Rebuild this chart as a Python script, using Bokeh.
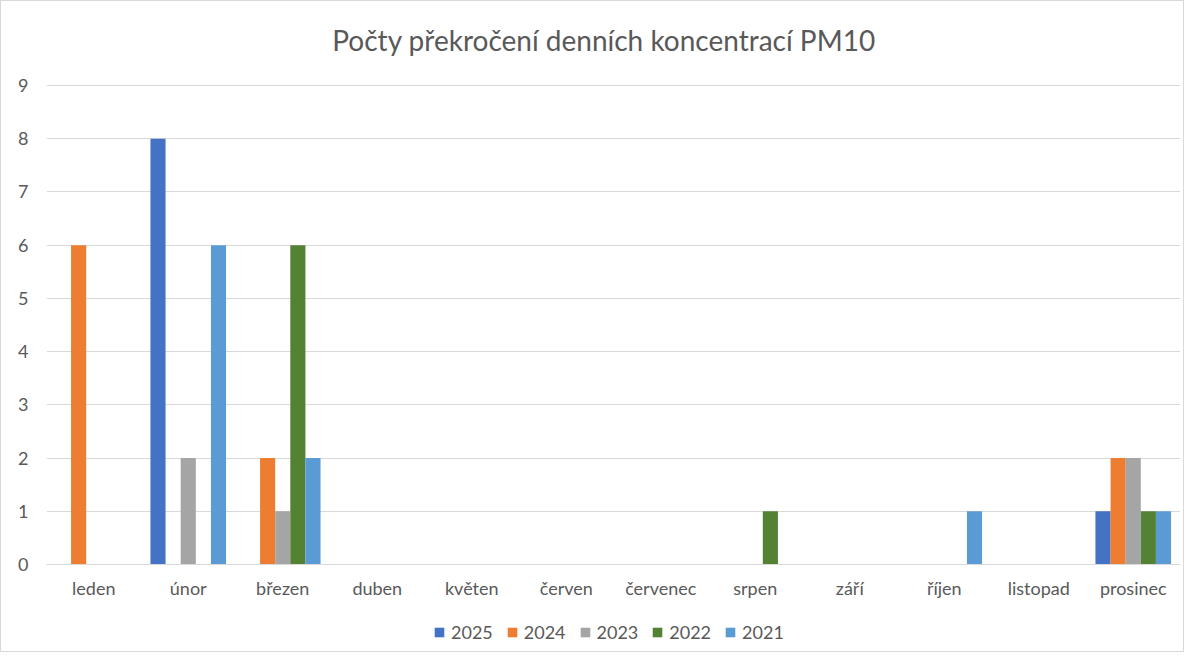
from bokeh.plotting import figure
from bokeh.models import ColumnDataSource, Legend, LegendItem, FactorRange, Range1d, Label
from bokeh.layouts import column
from bokeh.transform import dodge
from bokeh.embed import file_html
from bokeh.resources import INLINE

months = ["leden", "únor", "březen", "duben", "květen", "červen", "červenec",
          "srpen", "září", "říjen", "listopad", "prosinec"]
years = ["2025", "2024", "2023", "2022", "2021"]
v2025 = [0, 8, 0, 0, 0, 0, 0, 0, 0, 0, 0, 1]
v2024 = [6, 0, 2, 0, 0, 0, 0, 0, 0, 0, 0, 2]
v2023 = [0, 2, 1, 0, 0, 0, 0, 0, 0, 0, 0, 2]
v2022 = [0, 0, 6, 0, 0, 0, 0, 1, 0, 0, 0, 1]
v2021 = [0, 6, 2, 0, 0, 0, 0, 0, 0, 1, 0, 1]
colors = ["#4472C4", "#ED7D31", "#A5A5A5", "#548235", "#5B9BD5"]
y_ticks = list(range(0, 10))
title_text = "Počty překročení denních koncentrací PM10"

source = ColumnDataSource(dict(month=months, y2025=v2025, y2024=v2024,
                               y2023=v2023, y2022=v2022, y2021=v2021))

FONT = "Lato"
TXT = "#595959"

# main chart (frame extends to the top so the title can sit inside it)
p = figure(x_range=FactorRange(*months), y_range=Range1d(0, 10.578),
           width=1182, height=608, output_backend="svg", toolbar_location=None,
           min_border_left=45, min_border_right=3, min_border_top=0, min_border_bottom=45)

bw = 0.16
for i, (yr, col) in enumerate(zip(years, colors)):
    p.vbar(x=dodge("month", (i - 2) * bw, range=p.x_range), top="y" + yr,
           width=bw, color=col, line_color=None, source=source)

p.add_layout(Label(x=5.9, y=9.864, text=title_text, text_align="center",
                   text_baseline="middle", text_font=FONT, text_font_size="28px",
                   text_color=TXT))

p.xgrid.grid_line_color = None
p.ygrid.grid_line_color = "#d9d9d9"
p.ygrid.grid_line_width = 1
p.yaxis.ticker = y_ticks
p.outline_line_color = None

for ax in (p.xaxis, p.yaxis):
    ax.major_tick_line_color = None
    ax.minor_tick_line_color = None
    ax.major_tick_out = 0
    ax.major_tick_in = 0
    ax.minor_tick_out = 0
    ax.major_label_text_font = FONT
    ax.major_label_text_font_size = "18px"
    ax.major_label_text_color = TXT
p.yaxis.axis_line_color = None
p.xaxis.axis_line_color = "#d9d9d9"
p.yaxis.major_label_standoff = 18
p.xaxis.major_label_standoff = 12
p.x_range.range_padding = 0
p.x_range.group_padding = 0

# legend strip: same series drawn as square markers against a y range that keeps
# them out of view, so only the legend swatches and labels show
lg = figure(x_range=FactorRange(*months), y_range=Range1d(50, 51), width=1182, height=42,
            output_backend="svg", toolbar_location=None, x_axis_type=None, y_axis_type=None,
            min_border=0)
lg.grid.visible = False
lg.outline_line_color = None
items = []
for yr, col in zip(years, colors):
    r = lg.scatter(x="month", y="y" + yr, marker="square", size=10,
                   fill_color=col, line_color=None, source=source)
    items.append(LegendItem(label=yr, renderers=[r]))
legend = Legend(items=items, orientation="horizontal", location=(381, 6),
                glyph_width=24, glyph_height=26, label_standoff=0, spacing=7,
                label_text_font=FONT, label_text_font_size="18px", label_text_color=TXT,
                border_line_color=None, background_fill_alpha=0, padding=0, margin=0)
lg.add_layout(legend, "center")

layout = column(p, lg, spacing=0)
layout.styles = {"border": "1px solid #d9d9d9"}

open("out.html", "w").write(file_html(layout, INLINE))
